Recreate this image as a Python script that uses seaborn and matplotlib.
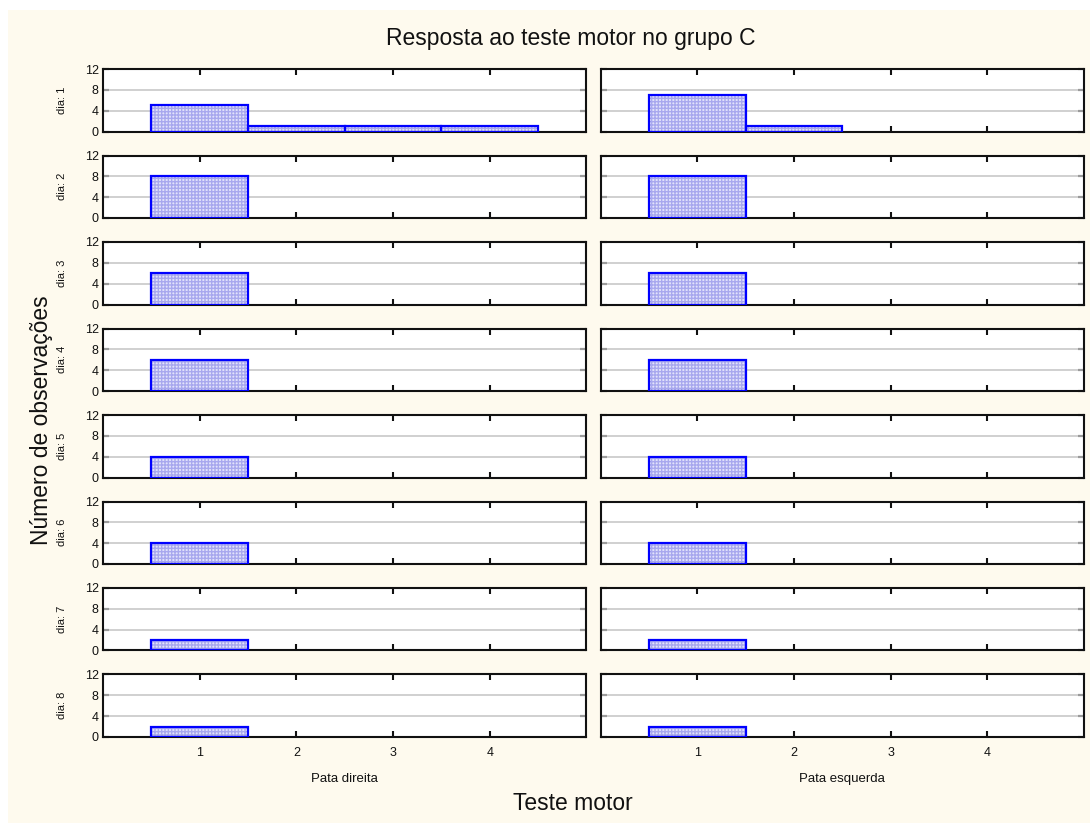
import pandas as pd
import seaborn as sns
import matplotlib.pyplot as plt
from matplotlib.patches import Rectangle

# counts per day (rows) and test score 1..4 (columns)
teste = [1, 2, 3, 4]
dias = [1, 2, 3, 4, 5, 6, 7, 8]
pata_direita = [[5, 1, 1, 1], [8, 0, 0, 0], [6, 0, 0, 0], [6, 0, 0, 0],
                [4, 0, 0, 0], [4, 0, 0, 0], [2, 0, 0, 0], [2, 0, 0, 0]]
pata_esquerda = [[7, 1, 0, 0], [8, 0, 0, 0], [6, 0, 0, 0], [6, 0, 0, 0],
                 [4, 0, 0, 0], [4, 0, 0, 0], [2, 0, 0, 0], [2, 0, 0, 0]]
patas = ["Pata direita", "Pata esquerda"]

rows = []
for pata, tabela in zip(patas, [pata_direita, pata_esquerda]):
    for dia, contagens in zip(dias, tabela):
        for t, n in zip(teste, contagens):
            if n > 0:
                rows.append({"pata": pata, "dia": dia, "teste": t, "n": n})
df = pd.DataFrame(rows)

sns.set_style("white")
plt.rcParams['font.family'] = ['Liberation Sans', 'DejaVu Sans']

bg = '#fefaee'
fig, axes = plt.subplots(len(dias), 2, figsize=(10.9, 8.23), dpi=100, sharex=True, sharey=True)
fig.patch.set_facecolor('white')
fig.patches.append(Rectangle((8 / 1090, 0), 1, 1 - 10 / 823, transform=fig.transFigure,
                             facecolor=bg, edgecolor='none', zorder=-10))
fig.subplots_adjust(left=103 / 1090, right=1084 / 1090, top=1 - 69 / 823, bottom=1 - 737 / 823,
                    wspace=0.029, hspace=0.384)

for i, dia in enumerate(dias):
    for j, pata in enumerate(patas):
        ax = axes[i, j]
        sub = df[(df.dia == dia) & (df.pata == pata)]
        # hatched fill
        sns.histplot(data=sub, x='teste', weights='n', discrete=True, ax=ax,
                     color='#e2e2fb', edgecolor='#a8a8ee', linewidth=0, hatch='+++++',
                     alpha=1, zorder=2)
        # blue outline
        sns.histplot(data=sub, x='teste', weights='n', discrete=True, ax=ax,
                     fill=False, color='#0000ff', linewidth=1.6, zorder=3)
        ax.set_xlim(0, 5)
        ax.set_ylim(0, 12)
        ax.set_xticks(teste)
        ax.set_yticks([0, 4, 8, 12])
        ax.set_xlabel("")
        ax.set_ylabel("")
        ax.set_facecolor('white')
        for y in [4, 8]:
            ax.axhline(y, color='#c4c4c4', linewidth=1.1, zorder=1)
        for s in ax.spines.values():
            s.set_linewidth(1.5)
            s.set_color('#111111')
            s.set_visible(True)
        ax.tick_params(direction='in', length=4, width=1.5, top=True, bottom=True,
                       left=True, right=True, labelsize=9, colors='#111111')
        ax.tick_params(axis='x', pad=7)
        ax.tick_params(axis='y', pad=3)
        if j == 0:
            ax.text(-0.085, 0.5, f"dia: {dia}", transform=ax.transAxes, rotation=90,
                    ha='center', va='center', fontsize=8, color='#111111')

for j, pata in enumerate(patas):
    pos = axes[-1, j].get_position()
    fig.text((pos.x0 + pos.x1) / 2, 1 - 779 / 823, pata, ha='center', va='center',
             fontsize=9.5, color='#111111')

fig.text(0.524, 1 - 38 / 823, "Resposta ao teste motor no grupo C", ha='center', va='center',
         fontsize=16.5, color='#111111')
fig.text(0.526, 1 - 803 / 823, "Teste motor", ha='center', va='center', fontsize=16.5, color='#111111')
fig.text(42 / 1090, 1 - 420 / 823, "Número de observações", rotation=90, ha='center', va='center',
         fontsize=16.5, color='#111111')

plt.savefig("out.png", dpi=100, facecolor=fig.get_facecolor())
